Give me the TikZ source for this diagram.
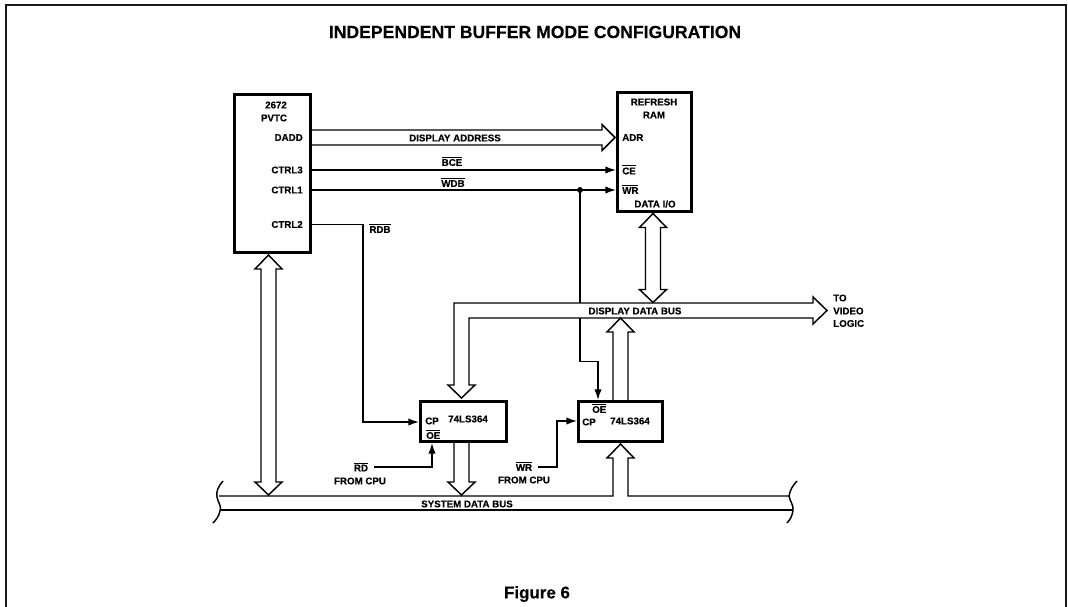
\documentclass[tikz,border=0pt]{standalone}
\usepackage{fontspec}
\setmainfont{Liberation Sans}[BoldFont={Liberation Sans Bold},BoldFeatures={FakeBold=0.25}]
\usetikzlibrary{arrows.meta,calc}
\newcommand{\ovl}[1]{\hbox{\vphantom{X}\smash{$\overline{\hbox{#1}}$}}}
% hollow bus arrows: a = pointed end / b = other end
\newcommand{\vbusboth}[2]{\draw[busline] (#1) -- ++(13.5,14) -- ++(-6,0) -- ($(#2)+(7.5,-13)$) -- ++(6,0) -- (#2) -- ++(-13.5,-13) -- ++(6,0) -- ($(#1)+(-7.5,14)$) -- ++(-6,0) -- cycle;}
\tikzset{
  txt/.style={inner sep=0pt,font=\bfseries\fontsize{7.3}{8}\selectfont,text=black},
  lft/.style={txt,anchor=west},
  rgt/.style={txt,anchor=east},
  boxnode/.style={draw=black,line width=2.1pt,fill=white,inner sep=0pt,anchor=north west,line join=miter},
  sig/.style={line width=1.05pt,draw=black,line join=miter},
  sigarrow/.style={sig,-{Latex[length=8pt,width=5.5pt]}},
  busline/.style={line width=1.1pt,draw=black,line join=miter},
  framed/.style={line width=1.5pt,draw=black!90},
  brace/.style={line width=1.1pt,draw=black}
}
\begin{document}
\begin{tikzpicture}[x=0.75pt,y=-0.75pt]
\useasboundingbox (0,0) rectangle (1068,607);
\fill[white] (0,0) rectangle (1068,607);
% page frame, open at the bottom
\coordinate (frBL) at (6,607);
\coordinate (frTL) at (6,5);
\coordinate (frTR) at (1066,5);
\coordinate (frBR) at (1066,607);
\draw[framed] (frBL) -- (frTL) -- (frTR) -- (frBR);
\node[txt,font=\bfseries\fontsize{13.2}{15}\selectfont] (title) at (535,32) {INDEPENDENT BUFFER MODE CONFIGURATION};
\node[txt,font=\bfseries\fontsize{12.7}{14}\selectfont] (fig) at (537,594) {Figure 6};
% blocks
\node[boxnode,minimum width=57.15pt,minimum height=118.65pt] (pvtc) at (233,93) {};
\node[boxnode,minimum width=55.65pt,minimum height=89.4pt] (ram) at (616,91) {};
\node[boxnode,minimum width=64.65pt,minimum height=30.15pt] (ica) at (419,400) {};
\node[boxnode,minimum width=63.15pt,minimum height=30.15pt] (icb) at (577,400) {};
% labels in PVTC
\node[txt] (pvA) at (276,105) {2672};
\node[txt] (pvB) at (274,118) {PVTC};
\node[rgt] (dadd) at (303,137.5) {DADD};
\node[rgt] (ctrlthree) at (303,170) {CTRL3};
\node[rgt] (ctrlone) at (303,190) {CTRL1};
\node[rgt] (ctrltwo) at (303,224.5) {CTRL2};
% labels in RAM
\node[txt] (ramA) at (654,102) {REFRESH};
\node[txt] (ramB) at (654,115) {RAM};
\node[lft] (adr) at (622,137.5) {ADR};
\node[lft] (ce) at (622,171) {\ovl{CE}};
\node[lft] (wr) at (622,190.5) {\ovl{WR}};
\node[txt] (dio) at (655,204) {DATA I/O};
% IC labels
\node[lft] (cpa) at (425,421) {CP};
\node[txt] (lsa) at (468,419) {74LS364};
\node[lft] (oea) at (426,435.5) {\ovl{OE}};
\node[lft] (oeb) at (592,409.5) {\ovl{OE}};
\node[lft] (cpb) at (582,422) {CP};
\node[txt] (lsb) at (630,421) {74LS364};
% signal labels
\node[txt] (ladd) at (455,138) {DISPLAY ADDRESS};
\node[txt] (lbce) at (452,162.5) {\ovl{BCE}};
\node[txt] (lwdb) at (453,183.5) {\ovl{WDB}};
\node[txt] (lrdb) at (380,229.5) {\ovl{RDB}};
\node[txt] (lddb) at (635,311) {DISPLAY DATA BUS};
\node[txt] (lsdb) at (467,504) {SYSTEM DATA BUS};
\node[lft] (toA) at (833,298) {TO};
\node[lft] (toB) at (833,311) {VIDEO};
\node[lft] (toC) at (833,323.5) {LOGIC};
\node[txt] (lrd) at (361,468) {\ovl{RD}};
\node[txt] (fca) at (360,481) {FROM CPU};
\node[txt] (lwr) at (524,467.5) {\ovl{WR}};
\node[txt] (fcb) at (524,480) {FROM CPU};
% control signals
\draw[sigarrow] (ctrlthree -| pvtc.east) -- (ctrlthree -| ram.west);
\draw[sigarrow] (ctrlone -| pvtc.east) -- (ctrlone -| ram.west);
\coordinate (jct) at (580,190);
\fill[black] (jct) circle (2.2pt);
\coordinate (jupper) at (580,303);
\coordinate (jlower) at (580,318);
\coordinate (jkink) at (580,361.5);
\coordinate (kinkb) at (598,361.5);
\draw[sig] (jct) -- (jupper);
\draw[sigarrow] (jlower) -- (jkink) -- (kinkb) -- (kinkb |- icb.north);
\coordinate (rdbk) at (363,224.5);
\coordinate (rdbl) at (363,422);
\draw[sigarrow] (ctrltwo -| pvtc.east) -- (rdbk) -- (rdbl) -- (rdbl -| ica.west);
\coordinate (rdst) at (374,467);
\coordinate (rdkn) at (432,467);
\draw[sigarrow] (rdst) -- (rdkn) -- (rdkn |- ica.south);
\coordinate (wrst) at (538,467);
\coordinate (wrkn) at (557,467);
\coordinate (wrup) at (557,421);
\draw[sigarrow] (wrst) -- (wrkn) -- (wrup) -- (wrup -| icb.west);
% display address bus
\coordinate (daS) at (pvtc.east |- dadd);
\coordinate (daE) at (615,137.5);
\draw[busline] ($(daS)+(0,-7.5)$) -- ($(daE)+(-13,-7.5)$) -- ++(0,-5.5) -- (daE) -- ++(-13,13) -- ++(0,-5.5) -- ($(daS)+(0,7.5)$);
% RAM data bus
\coordinate (rbT) at (653,213.5);
\coordinate (rbB) at (653,302.5);
\vbusboth{rbT}{rbB}
% PVTC to system bus
\coordinate (pbT) at (268.5,255);
\coordinate (pbB) at (268.5,495);
\vbusboth{pbT}{pbB}
% display data bus with branch into IC A
\coordinate (ddTip) at (461.5,398);
\coordinate (ddEnd) at (827,310.5);
\draw[busline] (ddTip) -- ++(13.5,-13) -- ++(-6,0) -- ($(ddEnd)+(-358,7.5)$) -- ($(ddEnd)+(-14,7.5)$) -- ++(0,6) -- (ddEnd) -- ++(-14,-13.5) -- ++(0,6) -- ($(ddEnd)+(-373,-7.5)$) -- ($(ddTip)+(-7.5,-13)$) -- ++(-6,0) -- cycle;
% IC B to display bus
\coordinate (ubT) at (620.5,318);
\draw[busline] (613,400) -- (613,332) -- ++(-6,0) -- (ubT) -- (634,332) -- ++(-6,0) -- (628,400);
% IC A to system bus
\coordinate (adT) at (461.5,495);
\draw[busline] (454,443) -- (454,482) -- ++(-6,0) -- (adT) -- (475,482) -- ++(-6,0) -- (469,443);
% system data bus with branch into IC B
\coordinate (sbL) at (219,496);
\coordinate (sbR) at (790,496);
\coordinate (sbT) at (620.5,444);
\draw[busline] (sbL) -- (613,496) -- (613,458) -- ++(-6,0) -- (sbT) -- (634,458) -- ++(-6,0) -- (628,496) -- (sbR);
\draw[busline] (220,510) -- (793,510);
% brace ends
\draw[brace] (223,481) .. controls (218,487) and (216,491) .. (217,497) .. controls (218,503) and (222,506) .. (220,511) .. controls (219,516) and (216,520) .. (213,523);
\draw[brace] (797,481) .. controls (793,485) and (790,490) .. (789,496) .. controls (790,502) and (794,505) .. (793,511) .. controls (792,516) and (790,520) .. (787,523);
\end{tikzpicture}
\end{document}
